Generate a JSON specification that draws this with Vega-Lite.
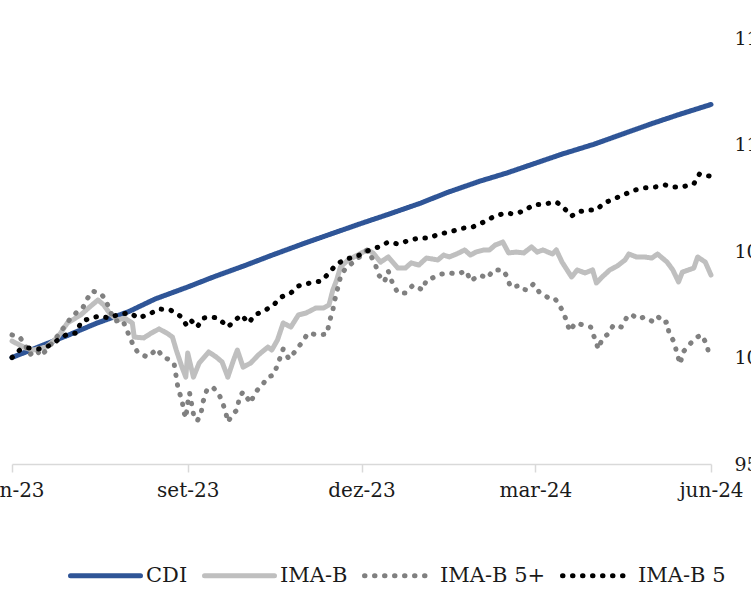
{
  "$schema": "https://vega.github.io/schema/vega-lite/v6.json",
  "width": 699,
  "height": 426,
  "autosize": {"type": "none"},
  "padding": {"left": 12, "top": 38, "right": 40, "bottom": 126},
  "background": "white",
  "config": {
    "view": {"stroke": null},
    "font": "DejaVu Serif"
  },
  "data": {"values": [
    {"s":"CDI","d":"2023-06-01","v":100.0},
    {"s":"CDI","d":"2023-06-15","v":100.5},
    {"s":"CDI","d":"2023-07-01","v":101.07},
    {"s":"CDI","d":"2023-07-15","v":101.6},
    {"s":"CDI","d":"2023-08-01","v":102.15},
    {"s":"CDI","d":"2023-08-15","v":102.75},
    {"s":"CDI","d":"2023-09-01","v":103.31},
    {"s":"CDI","d":"2023-09-15","v":103.8},
    {"s":"CDI","d":"2023-10-01","v":104.32},
    {"s":"CDI","d":"2023-10-15","v":104.8},
    {"s":"CDI","d":"2023-11-01","v":105.36},
    {"s":"CDI","d":"2023-11-15","v":105.8},
    {"s":"CDI","d":"2023-12-01","v":106.3},
    {"s":"CDI","d":"2023-12-15","v":106.72},
    {"s":"CDI","d":"2024-01-01","v":107.25},
    {"s":"CDI","d":"2024-01-15","v":107.75},
    {"s":"CDI","d":"2024-02-01","v":108.28},
    {"s":"CDI","d":"2024-02-15","v":108.66},
    {"s":"CDI","d":"2024-03-01","v":109.12},
    {"s":"CDI","d":"2024-03-15","v":109.55},
    {"s":"CDI","d":"2024-04-01","v":110.02},
    {"s":"CDI","d":"2024-04-15","v":110.47},
    {"s":"CDI","d":"2024-05-01","v":110.98},
    {"s":"CDI","d":"2024-05-15","v":111.4},
    {"s":"CDI","d":"2024-06-01","v":111.88},

    {"s":"IMA-B","d":"2023-06-01","v":100.77},
    {"s":"IMA-B","d":"2023-06-08","v":100.45},
    {"s":"IMA-B","d":"2023-06-12","v":100.35},
    {"s":"IMA-B","d":"2023-06-19","v":100.49},
    {"s":"IMA-B","d":"2023-06-25","v":100.96},
    {"s":"IMA-B","d":"2023-06-30","v":101.62},
    {"s":"IMA-B","d":"2023-07-07","v":102.0},
    {"s":"IMA-B","d":"2023-07-11","v":102.32},
    {"s":"IMA-B","d":"2023-07-16","v":102.7},
    {"s":"IMA-B","d":"2023-07-19","v":102.47},
    {"s":"IMA-B","d":"2023-07-22","v":102.09},
    {"s":"IMA-B","d":"2023-07-26","v":101.76},
    {"s":"IMA-B","d":"2023-07-30","v":101.85},
    {"s":"IMA-B","d":"2023-08-03","v":101.62},
    {"s":"IMA-B","d":"2023-08-04","v":100.96},
    {"s":"IMA-B","d":"2023-08-09","v":100.92},
    {"s":"IMA-B","d":"2023-08-13","v":101.15},
    {"s":"IMA-B","d":"2023-08-17","v":101.34},
    {"s":"IMA-B","d":"2023-08-21","v":101.15},
    {"s":"IMA-B","d":"2023-08-24","v":100.96},
    {"s":"IMA-B","d":"2023-08-26","v":100.35},
    {"s":"IMA-B","d":"2023-08-29","v":99.55},
    {"s":"IMA-B","d":"2023-08-31","v":99.08},
    {"s":"IMA-B","d":"2023-09-01","v":100.21},
    {"s":"IMA-B","d":"2023-09-04","v":99.08},
    {"s":"IMA-B","d":"2023-09-07","v":99.74},
    {"s":"IMA-B","d":"2023-09-12","v":100.26},
    {"s":"IMA-B","d":"2023-09-16","v":100.02},
    {"s":"IMA-B","d":"2023-09-19","v":99.79},
    {"s":"IMA-B","d":"2023-09-22","v":99.08},
    {"s":"IMA-B","d":"2023-09-25","v":99.88},
    {"s":"IMA-B","d":"2023-09-27","v":100.35},
    {"s":"IMA-B","d":"2023-09-30","v":99.55},
    {"s":"IMA-B","d":"2023-10-04","v":99.74},
    {"s":"IMA-B","d":"2023-10-08","v":100.12},
    {"s":"IMA-B","d":"2023-10-13","v":100.49},
    {"s":"IMA-B","d":"2023-10-15","v":100.35},
    {"s":"IMA-B","d":"2023-10-18","v":100.82},
    {"s":"IMA-B","d":"2023-10-21","v":101.62},
    {"s":"IMA-B","d":"2023-10-25","v":101.43},
    {"s":"IMA-B","d":"2023-10-29","v":102.0},
    {"s":"IMA-B","d":"2023-11-02","v":102.09},
    {"s":"IMA-B","d":"2023-11-07","v":102.32},
    {"s":"IMA-B","d":"2023-11-11","v":102.32},
    {"s":"IMA-B","d":"2023-11-14","v":102.47},
    {"s":"IMA-B","d":"2023-11-16","v":103.17},
    {"s":"IMA-B","d":"2023-11-18","v":103.64},
    {"s":"IMA-B","d":"2023-11-20","v":104.25},
    {"s":"IMA-B","d":"2023-11-24","v":104.58},
    {"s":"IMA-B","d":"2023-11-29","v":104.81},
    {"s":"IMA-B","d":"2023-12-04","v":105.05},
    {"s":"IMA-B","d":"2023-12-07","v":104.91},
    {"s":"IMA-B","d":"2023-12-11","v":104.48},
    {"s":"IMA-B","d":"2023-12-15","v":104.72},
    {"s":"IMA-B","d":"2023-12-20","v":104.2},
    {"s":"IMA-B","d":"2023-12-24","v":104.2},
    {"s":"IMA-B","d":"2023-12-27","v":104.44},
    {"s":"IMA-B","d":"2023-12-31","v":104.34},
    {"s":"IMA-B","d":"2024-01-04","v":104.67},
    {"s":"IMA-B","d":"2024-01-10","v":104.58},
    {"s":"IMA-B","d":"2024-01-13","v":104.81},
    {"s":"IMA-B","d":"2024-01-16","v":104.72},
    {"s":"IMA-B","d":"2024-01-21","v":104.91},
    {"s":"IMA-B","d":"2024-01-24","v":105.05},
    {"s":"IMA-B","d":"2024-01-27","v":104.81},
    {"s":"IMA-B","d":"2024-01-30","v":104.95},
    {"s":"IMA-B","d":"2024-02-03","v":105.05},
    {"s":"IMA-B","d":"2024-02-06","v":105.05},
    {"s":"IMA-B","d":"2024-02-09","v":105.28},
    {"s":"IMA-B","d":"2024-02-13","v":105.42},
    {"s":"IMA-B","d":"2024-02-16","v":104.91},
    {"s":"IMA-B","d":"2024-02-20","v":104.95},
    {"s":"IMA-B","d":"2024-02-24","v":104.91},
    {"s":"IMA-B","d":"2024-02-28","v":105.19},
    {"s":"IMA-B","d":"2024-03-02","v":104.95},
    {"s":"IMA-B","d":"2024-03-05","v":105.05},
    {"s":"IMA-B","d":"2024-03-10","v":104.86},
    {"s":"IMA-B","d":"2024-03-12","v":105.05},
    {"s":"IMA-B","d":"2024-03-15","v":104.48},
    {"s":"IMA-B","d":"2024-03-20","v":103.78},
    {"s":"IMA-B","d":"2024-03-23","v":104.11},
    {"s":"IMA-B","d":"2024-03-27","v":103.97},
    {"s":"IMA-B","d":"2024-03-31","v":104.11},
    {"s":"IMA-B","d":"2024-04-02","v":103.5},
    {"s":"IMA-B","d":"2024-04-05","v":103.78},
    {"s":"IMA-B","d":"2024-04-09","v":104.11},
    {"s":"IMA-B","d":"2024-04-13","v":104.3},
    {"s":"IMA-B","d":"2024-04-17","v":104.58},
    {"s":"IMA-B","d":"2024-04-19","v":104.86},
    {"s":"IMA-B","d":"2024-04-23","v":104.72},
    {"s":"IMA-B","d":"2024-04-27","v":104.72},
    {"s":"IMA-B","d":"2024-05-01","v":104.67},
    {"s":"IMA-B","d":"2024-05-04","v":104.86},
    {"s":"IMA-B","d":"2024-05-09","v":104.48},
    {"s":"IMA-B","d":"2024-05-12","v":104.11},
    {"s":"IMA-B","d":"2024-05-15","v":103.55},
    {"s":"IMA-B","d":"2024-05-17","v":104.01},
    {"s":"IMA-B","d":"2024-05-23","v":104.2},
    {"s":"IMA-B","d":"2024-05-25","v":104.72},
    {"s":"IMA-B","d":"2024-05-29","v":104.48},
    {"s":"IMA-B","d":"2024-06-01","v":103.87},

    {"s":"IMA-B 5+","d":"2023-06-01","v":101.06},
    {"s":"IMA-B 5+","d":"2023-06-05","v":100.96},
    {"s":"IMA-B 5+","d":"2023-06-08","v":100.59},
    {"s":"IMA-B 5+","d":"2023-06-10","v":100.12},
    {"s":"IMA-B 5+","d":"2023-06-14","v":100.35},
    {"s":"IMA-B 5+","d":"2023-06-16","v":100.07},
    {"s":"IMA-B 5+","d":"2023-06-19","v":100.35},
    {"s":"IMA-B 5+","d":"2023-06-22","v":100.68},
    {"s":"IMA-B 5+","d":"2023-06-26","v":101.15},
    {"s":"IMA-B 5+","d":"2023-07-01","v":101.76},
    {"s":"IMA-B 5+","d":"2023-07-05","v":102.14},
    {"s":"IMA-B 5+","d":"2023-07-08","v":102.32},
    {"s":"IMA-B 5+","d":"2023-07-10","v":102.7},
    {"s":"IMA-B 5+","d":"2023-07-13","v":103.12},
    {"s":"IMA-B 5+","d":"2023-07-17","v":103.03},
    {"s":"IMA-B 5+","d":"2023-07-20","v":102.75},
    {"s":"IMA-B 5+","d":"2023-07-22","v":102.23},
    {"s":"IMA-B 5+","d":"2023-07-25","v":101.71},
    {"s":"IMA-B 5+","d":"2023-07-29","v":101.76},
    {"s":"IMA-B 5+","d":"2023-07-30","v":101.53},
    {"s":"IMA-B 5+","d":"2023-08-03","v":100.68},
    {"s":"IMA-B 5+","d":"2023-08-06","v":100.21},
    {"s":"IMA-B 5+","d":"2023-08-11","v":100.02},
    {"s":"IMA-B 5+","d":"2023-08-16","v":100.4},
    {"s":"IMA-B 5+","d":"2023-08-19","v":100.02},
    {"s":"IMA-B 5+","d":"2023-08-23","v":99.88},
    {"s":"IMA-B 5+","d":"2023-08-25","v":99.65},
    {"s":"IMA-B 5+","d":"2023-08-26","v":99.08},
    {"s":"IMA-B 5+","d":"2023-08-27","v":98.52},
    {"s":"IMA-B 5+","d":"2023-08-29","v":98.0},
    {"s":"IMA-B 5+","d":"2023-08-30","v":97.44},
    {"s":"IMA-B 5+","d":"2023-08-31","v":97.16},
    {"s":"IMA-B 5+","d":"2023-09-01","v":97.86},
    {"s":"IMA-B 5+","d":"2023-09-02","v":98.33},
    {"s":"IMA-B 5+","d":"2023-09-04","v":97.35},
    {"s":"IMA-B 5+","d":"2023-09-06","v":97.02},
    {"s":"IMA-B 5+","d":"2023-09-08","v":97.39},
    {"s":"IMA-B 5+","d":"2023-09-09","v":97.91},
    {"s":"IMA-B 5+","d":"2023-09-11","v":98.47},
    {"s":"IMA-B 5+","d":"2023-09-14","v":98.62},
    {"s":"IMA-B 5+","d":"2023-09-17","v":98.33},
    {"s":"IMA-B 5+","d":"2023-09-19","v":97.96},
    {"s":"IMA-B 5+","d":"2023-09-21","v":97.39},
    {"s":"IMA-B 5+","d":"2023-09-22","v":96.97},
    {"s":"IMA-B 5+","d":"2023-09-25","v":97.39},
    {"s":"IMA-B 5+","d":"2023-09-27","v":97.54},
    {"s":"IMA-B 5+","d":"2023-09-28","v":98.15},
    {"s":"IMA-B 5+","d":"2023-09-30","v":98.38},
    {"s":"IMA-B 5+","d":"2023-10-04","v":97.86},
    {"s":"IMA-B 5+","d":"2023-10-06","v":98.33},
    {"s":"IMA-B 5+","d":"2023-10-10","v":98.71},
    {"s":"IMA-B 5+","d":"2023-10-13","v":99.08},
    {"s":"IMA-B 5+","d":"2023-10-16","v":99.18},
    {"s":"IMA-B 5+","d":"2023-10-18","v":99.65},
    {"s":"IMA-B 5+","d":"2023-10-21","v":100.4},
    {"s":"IMA-B 5+","d":"2023-10-24","v":99.93},
    {"s":"IMA-B 5+","d":"2023-10-27","v":100.26},
    {"s":"IMA-B 5+","d":"2023-10-31","v":100.73},
    {"s":"IMA-B 5+","d":"2023-11-03","v":101.15},
    {"s":"IMA-B 5+","d":"2023-11-08","v":101.06},
    {"s":"IMA-B 5+","d":"2023-11-13","v":101.1},
    {"s":"IMA-B 5+","d":"2023-11-14","v":101.62},
    {"s":"IMA-B 5+","d":"2023-11-16","v":102.23},
    {"s":"IMA-B 5+","d":"2023-11-17","v":102.7},
    {"s":"IMA-B 5+","d":"2023-11-20","v":103.78},
    {"s":"IMA-B 5+","d":"2023-11-23","v":104.25},
    {"s":"IMA-B 5+","d":"2023-11-27","v":104.48},
    {"s":"IMA-B 5+","d":"2023-12-01","v":104.81},
    {"s":"IMA-B 5+","d":"2023-12-04","v":105.05},
    {"s":"IMA-B 5+","d":"2023-12-08","v":104.44},
    {"s":"IMA-B 5+","d":"2023-12-10","v":103.87},
    {"s":"IMA-B 5+","d":"2023-12-13","v":103.55},
    {"s":"IMA-B 5+","d":"2023-12-15","v":104.06},
    {"s":"IMA-B 5+","d":"2023-12-17","v":103.55},
    {"s":"IMA-B 5+","d":"2023-12-20","v":103.03},
    {"s":"IMA-B 5+","d":"2023-12-24","v":103.03},
    {"s":"IMA-B 5+","d":"2023-12-28","v":103.4},
    {"s":"IMA-B 5+","d":"2024-01-02","v":103.17},
    {"s":"IMA-B 5+","d":"2024-01-04","v":103.64},
    {"s":"IMA-B 5+","d":"2024-01-07","v":103.73},
    {"s":"IMA-B 5+","d":"2024-01-12","v":103.92},
    {"s":"IMA-B 5+","d":"2024-01-16","v":103.97},
    {"s":"IMA-B 5+","d":"2024-01-20","v":103.92},
    {"s":"IMA-B 5+","d":"2024-01-25","v":104.06},
    {"s":"IMA-B 5+","d":"2024-01-27","v":103.59},
    {"s":"IMA-B 5+","d":"2024-02-01","v":103.87},
    {"s":"IMA-B 5+","d":"2024-02-05","v":103.73},
    {"s":"IMA-B 5+","d":"2024-02-08","v":104.11},
    {"s":"IMA-B 5+","d":"2024-02-13","v":104.11},
    {"s":"IMA-B 5+","d":"2024-02-15","v":103.83},
    {"s":"IMA-B 5+","d":"2024-02-17","v":103.31},
    {"s":"IMA-B 5+","d":"2024-02-21","v":103.36},
    {"s":"IMA-B 5+","d":"2024-02-22","v":103.22},
    {"s":"IMA-B 5+","d":"2024-02-26","v":103.17},
    {"s":"IMA-B 5+","d":"2024-02-29","v":103.45},
    {"s":"IMA-B 5+","d":"2024-03-03","v":103.08},
    {"s":"IMA-B 5+","d":"2024-03-08","v":102.79},
    {"s":"IMA-B 5+","d":"2024-03-11","v":102.79},
    {"s":"IMA-B 5+","d":"2024-03-13","v":102.56},
    {"s":"IMA-B 5+","d":"2024-03-15","v":102.23},
    {"s":"IMA-B 5+","d":"2024-03-17","v":101.81},
    {"s":"IMA-B 5+","d":"2024-03-19","v":101.24},
    {"s":"IMA-B 5+","d":"2024-03-22","v":101.62},
    {"s":"IMA-B 5+","d":"2024-03-26","v":101.53},
    {"s":"IMA-B 5+","d":"2024-03-30","v":101.43},
    {"s":"IMA-B 5+","d":"2024-04-01","v":100.92},
    {"s":"IMA-B 5+","d":"2024-04-03","v":100.4},
    {"s":"IMA-B 5+","d":"2024-04-05","v":100.87},
    {"s":"IMA-B 5+","d":"2024-04-08","v":101.1},
    {"s":"IMA-B 5+","d":"2024-04-11","v":101.53},
    {"s":"IMA-B 5+","d":"2024-04-15","v":101.43},
    {"s":"IMA-B 5+","d":"2024-04-18","v":101.9},
    {"s":"IMA-B 5+","d":"2024-04-20","v":102.04},
    {"s":"IMA-B 5+","d":"2024-04-24","v":101.81},
    {"s":"IMA-B 5+","d":"2024-04-27","v":101.9},
    {"s":"IMA-B 5+","d":"2024-05-01","v":101.71},
    {"s":"IMA-B 5+","d":"2024-05-04","v":101.95},
    {"s":"IMA-B 5+","d":"2024-05-07","v":101.62},
    {"s":"IMA-B 5+","d":"2024-05-09","v":101.67},
    {"s":"IMA-B 5+","d":"2024-05-10","v":101.15},
    {"s":"IMA-B 5+","d":"2024-05-13","v":100.68},
    {"s":"IMA-B 5+","d":"2024-05-14","v":100.21},
    {"s":"IMA-B 5+","d":"2024-05-16","v":99.69},
    {"s":"IMA-B 5+","d":"2024-05-17","v":100.21},
    {"s":"IMA-B 5+","d":"2024-05-20","v":100.54},
    {"s":"IMA-B 5+","d":"2024-05-24","v":100.92},
    {"s":"IMA-B 5+","d":"2024-05-27","v":101.06},
    {"s":"IMA-B 5+","d":"2024-05-30","v":100.59},
    {"s":"IMA-B 5+","d":"2024-05-31","v":100.02},

    {"s":"IMA-B 5","d":"2023-06-01","v":100.0},
    {"s":"IMA-B 5","d":"2023-06-05","v":100.35},
    {"s":"IMA-B 5","d":"2023-06-09","v":100.45},
    {"s":"IMA-B 5","d":"2023-06-15","v":100.4},
    {"s":"IMA-B 5","d":"2023-06-20","v":100.54},
    {"s":"IMA-B 5","d":"2023-06-25","v":100.82},
    {"s":"IMA-B 5","d":"2023-06-30","v":101.1},
    {"s":"IMA-B 5","d":"2023-07-05","v":101.15},
    {"s":"IMA-B 5","d":"2023-07-07","v":101.67},
    {"s":"IMA-B 5","d":"2023-07-12","v":101.85},
    {"s":"IMA-B 5","d":"2023-07-17","v":101.95},
    {"s":"IMA-B 5","d":"2023-07-22","v":101.85},
    {"s":"IMA-B 5","d":"2023-07-27","v":102.04},
    {"s":"IMA-B 5","d":"2023-08-02","v":102.09},
    {"s":"IMA-B 5","d":"2023-08-06","v":101.85},
    {"s":"IMA-B 5","d":"2023-08-12","v":102.04},
    {"s":"IMA-B 5","d":"2023-08-17","v":102.28},
    {"s":"IMA-B 5","d":"2023-08-23","v":102.23},
    {"s":"IMA-B 5","d":"2023-08-28","v":101.95},
    {"s":"IMA-B 5","d":"2023-08-31","v":101.57},
    {"s":"IMA-B 5","d":"2023-09-02","v":101.81},
    {"s":"IMA-B 5","d":"2023-09-06","v":101.43},
    {"s":"IMA-B 5","d":"2023-09-09","v":101.85},
    {"s":"IMA-B 5","d":"2023-09-13","v":101.9},
    {"s":"IMA-B 5","d":"2023-09-17","v":101.85},
    {"s":"IMA-B 5","d":"2023-09-22","v":101.43},
    {"s":"IMA-B 5","d":"2023-09-26","v":101.76},
    {"s":"IMA-B 5","d":"2023-09-29","v":102.0},
    {"s":"IMA-B 5","d":"2023-10-03","v":101.62},
    {"s":"IMA-B 5","d":"2023-10-06","v":102.0},
    {"s":"IMA-B 5","d":"2023-10-11","v":102.18},
    {"s":"IMA-B 5","d":"2023-10-16","v":102.47},
    {"s":"IMA-B 5","d":"2023-10-20","v":102.84},
    {"s":"IMA-B 5","d":"2023-10-25","v":103.03},
    {"s":"IMA-B 5","d":"2023-10-29","v":103.36},
    {"s":"IMA-B 5","d":"2023-11-04","v":103.5},
    {"s":"IMA-B 5","d":"2023-11-10","v":103.59},
    {"s":"IMA-B 5","d":"2023-11-14","v":103.97},
    {"s":"IMA-B 5","d":"2023-11-18","v":104.39},
    {"s":"IMA-B 5","d":"2023-11-23","v":104.62},
    {"s":"IMA-B 5","d":"2023-11-29","v":104.77},
    {"s":"IMA-B 5","d":"2023-12-04","v":105.0},
    {"s":"IMA-B 5","d":"2023-12-10","v":105.19},
    {"s":"IMA-B 5","d":"2023-12-15","v":105.42},
    {"s":"IMA-B 5","d":"2023-12-20","v":105.33},
    {"s":"IMA-B 5","d":"2023-12-25","v":105.47},
    {"s":"IMA-B 5","d":"2023-12-31","v":105.61},
    {"s":"IMA-B 5","d":"2024-01-05","v":105.61},
    {"s":"IMA-B 5","d":"2024-01-11","v":105.8},
    {"s":"IMA-B 5","d":"2024-01-16","v":105.89},
    {"s":"IMA-B 5","d":"2024-01-23","v":106.07},
    {"s":"IMA-B 5","d":"2024-01-28","v":106.12},
    {"s":"IMA-B 5","d":"2024-02-03","v":106.36},
    {"s":"IMA-B 5","d":"2024-02-08","v":106.6},
    {"s":"IMA-B 5","d":"2024-02-14","v":106.78},
    {"s":"IMA-B 5","d":"2024-02-19","v":106.74},
    {"s":"IMA-B 5","d":"2024-02-24","v":106.88},
    {"s":"IMA-B 5","d":"2024-02-29","v":107.16},
    {"s":"IMA-B 5","d":"2024-03-06","v":107.21},
    {"s":"IMA-B 5","d":"2024-03-12","v":107.3},
    {"s":"IMA-B 5","d":"2024-03-15","v":107.11},
    {"s":"IMA-B 5","d":"2024-03-20","v":106.64},
    {"s":"IMA-B 5","d":"2024-03-23","v":106.83},
    {"s":"IMA-B 5","d":"2024-03-29","v":106.93},
    {"s":"IMA-B 5","d":"2024-04-02","v":106.93},
    {"s":"IMA-B 5","d":"2024-04-06","v":107.25},
    {"s":"IMA-B 5","d":"2024-04-11","v":107.44},
    {"s":"IMA-B 5","d":"2024-04-16","v":107.63},
    {"s":"IMA-B 5","d":"2024-04-22","v":107.86},
    {"s":"IMA-B 5","d":"2024-04-27","v":107.96},
    {"s":"IMA-B 5","d":"2024-05-03","v":108.01},
    {"s":"IMA-B 5","d":"2024-05-08","v":108.1},
    {"s":"IMA-B 5","d":"2024-05-12","v":108.01},
    {"s":"IMA-B 5","d":"2024-05-17","v":108.01},
    {"s":"IMA-B 5","d":"2024-05-23","v":108.15},
    {"s":"IMA-B 5","d":"2024-05-26","v":108.62},
    {"s":"IMA-B 5","d":"2024-05-31","v":108.52}
  ]},
  "mark": {"type": "line", "strokeWidth": 5, "strokeCap": "round", "strokeJoin": "round", "clip": false},
  "encoding": {
    "x": {
      "field": "d", "type": "temporal",
      "scale": {"type": "utc", "nice": false, "domain": [{"year": 2023, "month": 6, "date": 1, "utc": true}, {"year": 2024, "month": 6, "date": 1, "utc": true}]},
      "axis": {
        "title": null,
        "values": [
          {"year": 2023, "month": 6, "date": 1, "utc": true},
          {"year": 2023, "month": 9, "date": 1, "utc": true},
          {"year": 2023, "month": 12, "date": 1, "utc": true},
          {"year": 2024, "month": 3, "date": 1, "utc": true},
          {"year": 2024, "month": 6, "date": 1, "utc": true}
        ],
        "labelExpr": "['jan','fev','mar','abr','mai','jun','jul','ago','set','out','nov','dez'][utcmonth(datum.value)] + '-' + utcFormat(datum.value, '%y')",
        "grid": false,
        "domainColor": "#D9D9D9", "domainWidth": 1.5,
        "tickColor": "#D9D9D9", "tickWidth": 1.5, "tickSize": 8,
        "labelFont": "DejaVu Serif", "labelFontSize": 20, "labelColor": "#1a1a1a",
        "labelPadding": 8, "labelFlush": false, "labelOverlap": false
      }
    },
    "y": {
      "field": "v", "type": "quantitative",
      "scale": {"domain": [95, 115], "nice": false, "zero": false},
      "axis": {
        "title": null, "orient": "right", "values": [95, 100, 105, 110, 115],
        "grid": false, "domain": false, "ticks": false,
        "labelFont": "DejaVu Serif", "labelFontSize": 19, "labelColor": "#1a1a1a",
        "labelPadding": 23, "labelAlign": "left", "labelBaseline": "middle", "labelFlush": false
      }
    },
    "color": {
      "field": "s", "type": "nominal",
      "scale": {"domain": ["CDI", "IMA-B", "IMA-B 5+", "IMA-B 5"], "range": ["#2F5597", "#BFBFBF", "#808080", "#000000"]},
      "legend": {
        "title": null, "orient": "none", "legendX": 56, "legendY": 500, "direction": "horizontal",
        "symbolType": "stroke", "symbolSize": 4900, "symbolStrokeWidth": 5,
        "labelFont": "DejaVu Serif", "labelFontSize": 21, "labelColor": "#1a1a1a",
        "labelOffset": 3, "columnPadding": 6,
        "encode": {"symbols": {"update": {"strokeCap": {"value": "round"}}}}
      }
    },
    "strokeDash": {
      "field": "s", "type": "nominal",
      "scale": {"domain": ["CDI", "IMA-B", "IMA-B 5+", "IMA-B 5"], "range": [[1, 0], [1, 0], [0.5, 9.5], [0.5, 9.5]]},
      "legend": {
        "title": null, "orient": "none", "legendX": 56, "legendY": 500, "direction": "horizontal",
        "symbolType": "stroke", "symbolSize": 4900, "symbolStrokeWidth": 5,
        "labelFont": "DejaVu Serif", "labelFontSize": 21, "labelColor": "#1a1a1a",
        "labelOffset": 3, "columnPadding": 6,
        "encode": {"symbols": {"update": {"strokeCap": {"value": "round"}}}}
      }
    }
  }
}
